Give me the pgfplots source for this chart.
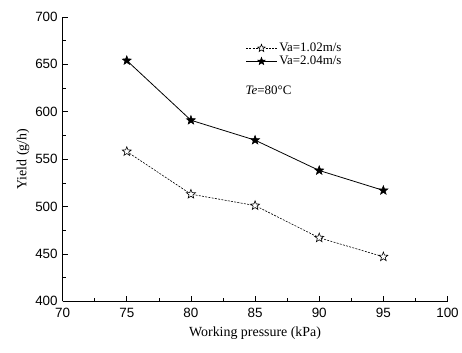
\documentclass[border=0pt]{standalone}
\usepackage{fontspec}
\setmainfont{Liberation Serif}
\setsansfont{Liberation Sans}
\usepackage{pgfplots}
\pgfplotsset{compat=1.18}
\pgfdeclareplotmark{fstar}{%
  \pgfpathmoveto{\pgfpointpolar{90}{\pgfplotmarksize}}%
  \pgfpathlineto{\pgfpointpolar{126}{0.42\pgfplotmarksize}}%
  \pgfpathlineto{\pgfpointpolar{162}{\pgfplotmarksize}}%
  \pgfpathlineto{\pgfpointpolar{198}{0.42\pgfplotmarksize}}%
  \pgfpathlineto{\pgfpointpolar{234}{\pgfplotmarksize}}%
  \pgfpathlineto{\pgfpointpolar{270}{0.42\pgfplotmarksize}}%
  \pgfpathlineto{\pgfpointpolar{306}{\pgfplotmarksize}}%
  \pgfpathlineto{\pgfpointpolar{342}{0.42\pgfplotmarksize}}%
  \pgfpathlineto{\pgfpointpolar{18}{\pgfplotmarksize}}%
  \pgfpathlineto{\pgfpointpolar{54}{0.42\pgfplotmarksize}}%
  \pgfpathclose
  \pgfusepathqfillstroke}
\pgfplotsset{mylegimg/.style={legend image code/.code={\draw[mark repeat=2,mark phase=2,#1] plot coordinates {(0bp,0bp)(15.5bp,0bp)(31bp,0bp)};}}}
\begin{document}
\begin{tikzpicture}
\begin{axis}[
  scale only axis,
  width=387bp, height=286bp,
  xmin=70, xmax=100, ymin=400, ymax=700,
  xtick={70,75,...,100}, ytick={400,450,...,700},
  minor tick num=1,
  axis x line*=bottom, axis y line*=left,
  tick align=inside,
  major tick length=5bp, minor tick length=3bp,
  every tick/.style={black, line width=0.6pt},
  axis line style={line width=0.8pt},
  /pgf/number format/assume math mode=true,
  /pgf/number format/1000 sep={},
  tick label style={font=\sffamily\fontsize{13.5bp}{15bp}\selectfont},
  xticklabel={\textsf{\fontsize{13.5bp}{15bp}\selectfont\pgfmathprintnumber{\tick}}},
  yticklabel={\textsf{\fontsize{13.5bp}{15bp}\selectfont\pgfmathprintnumber{\tick}}},
  xticklabel style={yshift=-3bp},
  yticklabel style={xshift=-1.5bp},
  label style={font=\fontsize{14bp}{16bp}\selectfont},
  xlabel={Working pressure (kPa)},
  ylabel={Yield (g/h)},
  xlabel style={yshift=-3bp},
  ylabel style={yshift=-1bp},
  legend style={draw=none, fill=none, at={(rel axis cs:0.475,0.915)}, anchor=north west,
    font=\fontsize{13bp}{15bp}\selectfont, row sep=-1bp, inner sep=0pt},
  legend cell align=left,
  clip=false,
]
\addplot[black, line width=0.6pt, dash pattern=on 2pt off 1.3pt, mark=fstar, mark size=4.8bp,
  mark options={solid, fill=white, line width=0.6pt}, mylegimg={mark size=4bp}]
  coordinates {(75,558) (80,513) (85,501) (90,467) (95,447)};
\addlegendentry{Va=1.02m/s}
\addplot[black, line width=0.8pt, mark=fstar, mark size=4.8bp,
  mark options={solid, fill=black, line width=0.5pt}, mylegimg={mark size=4bp}]
  coordinates {(75,654) (80,591) (85,570) (90,538) (95,517)};
\addlegendentry{Va=2.04m/s}
\node[anchor=west, font=\fontsize{13bp}{15bp}\selectfont, inner sep=0pt] at (rel axis cs:0.475,0.742) {\textit{Te}=80°C};
\end{axis}
\path (current axis.south west) ++(-63bp,-51bp) coordinate (bl);
\path (current axis.north east) ++(12bp,17bp) coordinate (tr);
\path[use as bounding box] (bl) rectangle (tr);
\end{tikzpicture}
\end{document}
